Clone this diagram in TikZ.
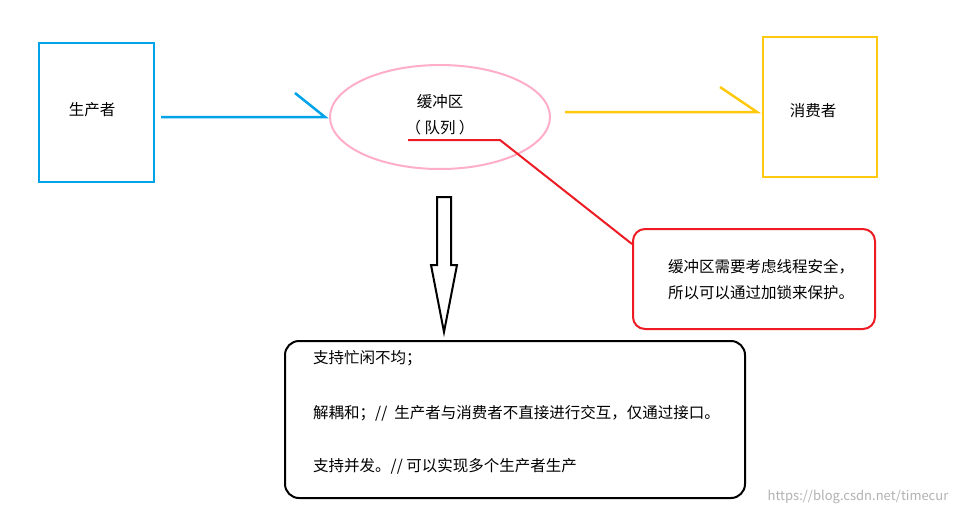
\documentclass[tikz,border=0pt]{standalone}
\usepackage{fontspec}
\usetikzlibrary{shapes.geometric}
\setmainfont{Noto Sans CJK SC}
\begin{document}
\begin{tikzpicture}[x=1pt,y=-1pt,
  lbl/.style={font=\fontsize{15.5}{17}\selectfont,inner sep=0pt},
  blueC/.style={draw={rgb,255:red,0;green,162;blue,232},line width=2.5pt},
  yelC/.style={draw={rgb,255:red,255;green,201;blue,14},line width=2.5pt},
  redC/.style={draw={rgb,255:red,237;green,28;blue,36},line width=2pt}]
\useasboundingbox[fill=white] (0,0) rectangle (965,515);
\node[blueC,minimum width=115,minimum height=139,inner sep=0pt] (prod) at (96.5,112.5) {};
\node[lbl] at (92,110) {生产者};
\node[yelC,minimum width=114,minimum height=140,inner sep=0pt] (cons) at (820,107) {};
\node[lbl] at (813,111) {消费者};
\node[draw={rgb,255:red,255;green,174;blue,201},line width=2pt,ellipse,minimum width=220,minimum height=104,inner sep=0pt] (buf) at (440,117) {};
\node[lbl] (b1) at (440,102) {缓冲区};
\node[lbl] (b2) at (440,128) {（\ 队列\ ）};
\coordinate (pa) at (161,117); \coordinate (pb) at (325,117); \coordinate (pc) at (295,93);
\draw[blueC] (pa) -- (pb) -- (pc);
\coordinate (ya) at (565,112); \coordinate (yb) at (757,112); \coordinate (yc) at (720,87);
\draw[yelC] (ya) -- (yb) -- (yc);
\node[redC,rounded corners=12pt,minimum width=242,minimum height=100,inner sep=0pt] (note) at (754,279) {};
\node[lbl,align=left,anchor=west] at (668,280) {缓冲区需要考虑线程安全，\\[9pt]所以可以通过加锁来保护。};
\coordinate (r1) at (408,140); \coordinate (r2) at (500,140);
\draw[redC] (r1) -- (r2) -- ([yshift=-16pt]note.north west);
\draw[line width=2pt,line join=miter] (437,197) -- (451,197) -- (451,265) -- (457,265) -- (444,332) -- (431,265) -- (437,265) -- cycle;
\node[draw,line width=2pt,rounded corners=14pt,minimum width=460,minimum height=157,inner sep=0pt] (feat) at (515,419.5) {};
\node[lbl,anchor=west] at (313,358) {支持忙闲不均；};
\node[lbl,anchor=west] at (313,413) {解耦和；//\ \ 生产者与消费者不直接进行交互，仅通过接口。};
\node[lbl,anchor=west] at (313,466) {支持并发。// 可以实现多个生产者生产};
\node[lbl,text=gray!60,font=\fontsize{13}{15}\selectfont] at (858,497) {https://blog.csdn.net/timecur};
\end{tikzpicture}
\end{document}
